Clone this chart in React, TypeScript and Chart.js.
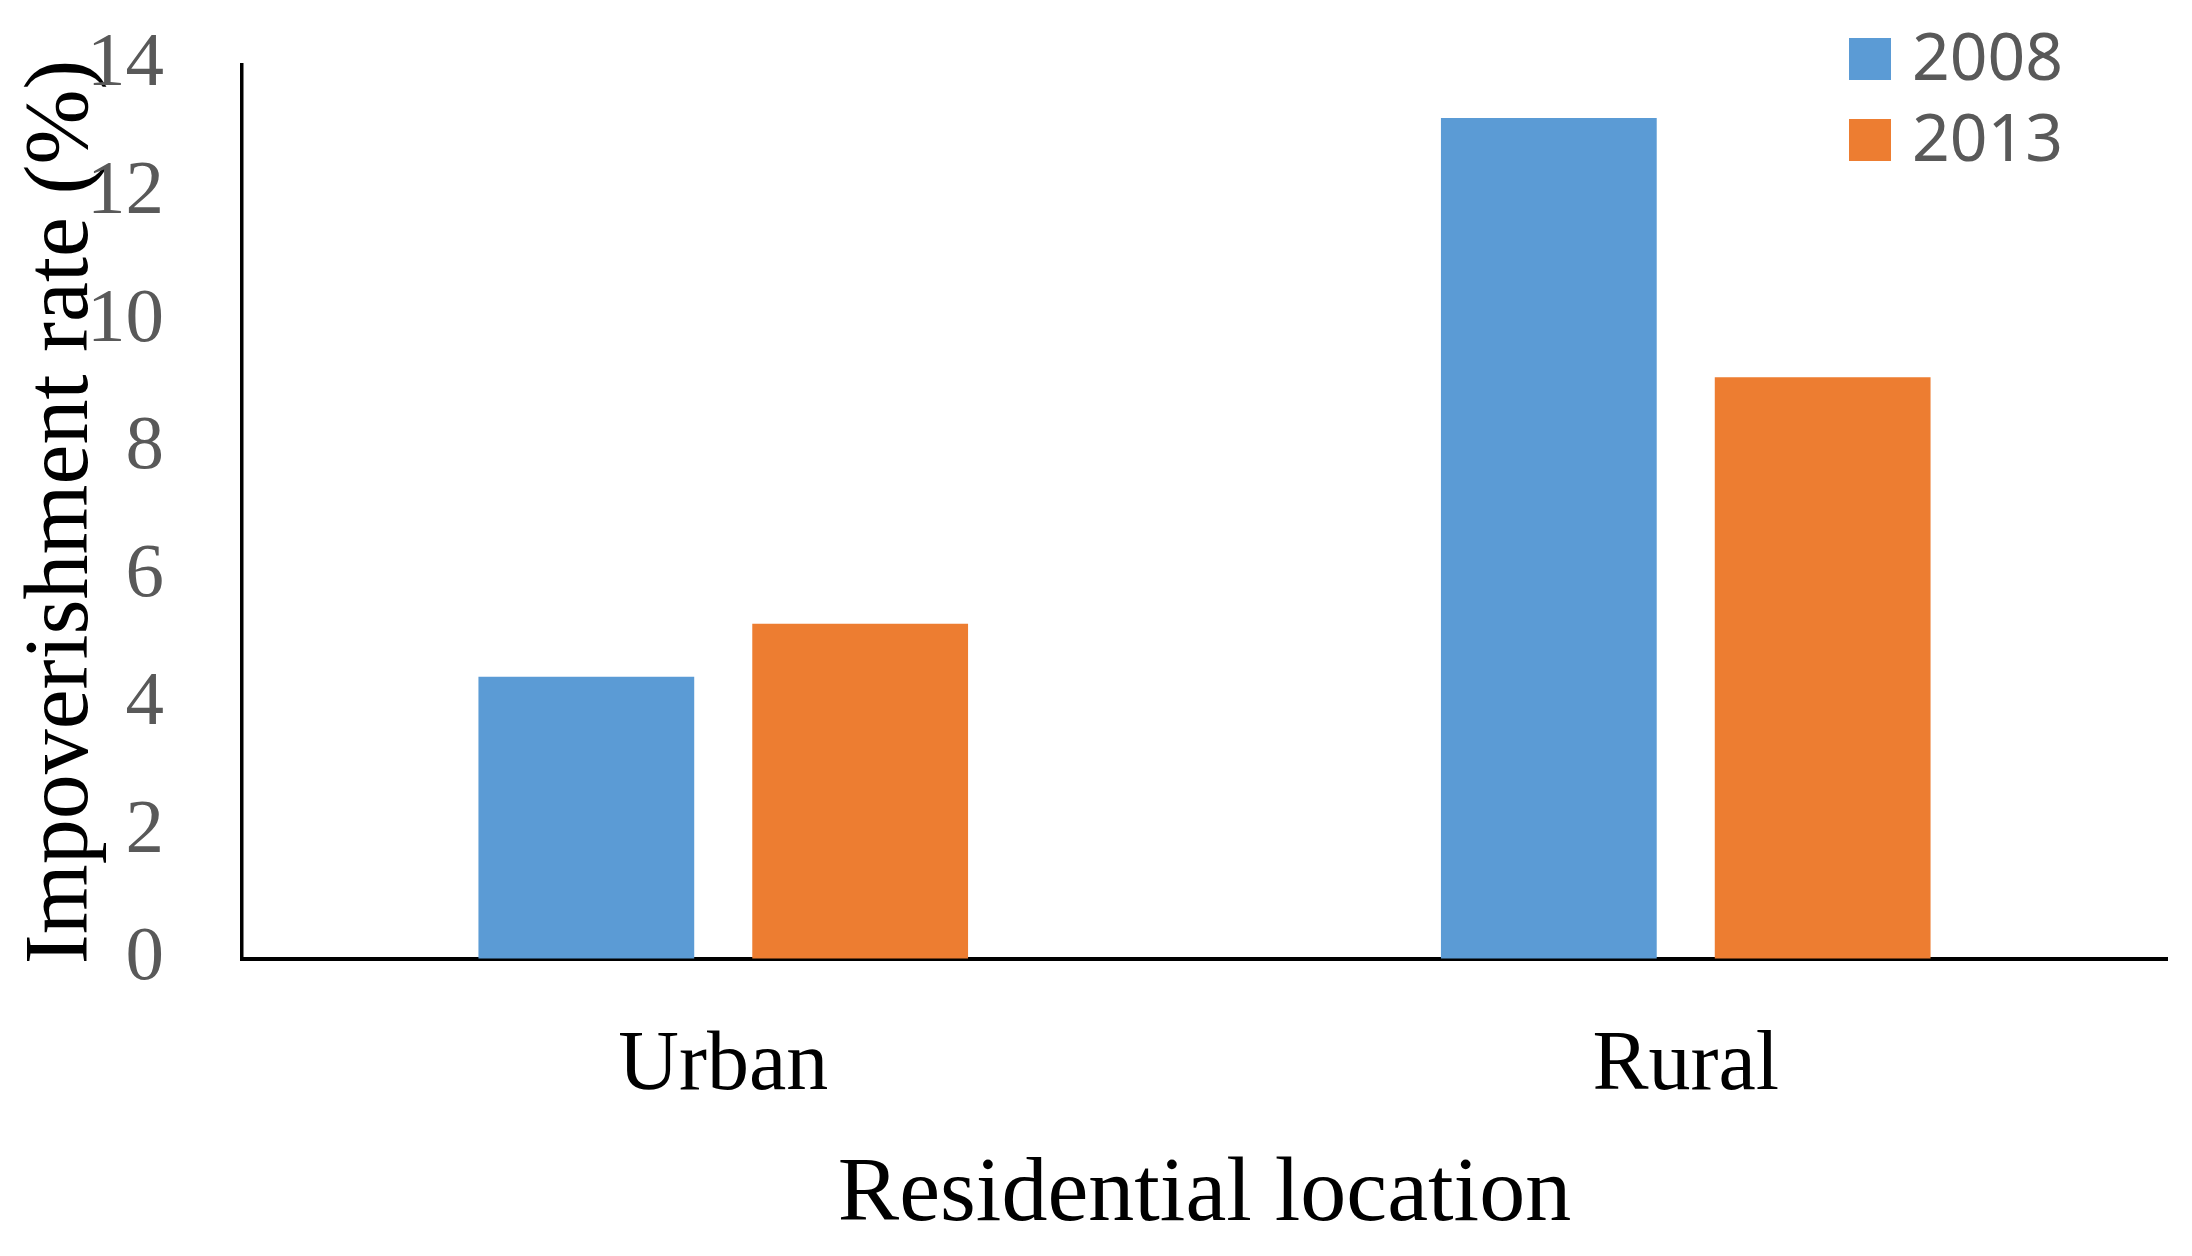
import React, { useEffect, useRef } from "react";
import { Chart, registerables } from "chart.js";

Chart.register(...registerables);

const categories = ["Urban", "Rural"];
const seriesLabels = ["2008", "2013"];
const values2008 = [4.42, 13.17];
const values2013 = [5.25, 9.11];
const seriesColors = ["#5B9BD5", "#ED7D31"];
const yMin = 0;
const yMax = 14;
const yStep = 2;
const xTitle = "Residential location";
const yTitle = "Impoverishment rate (%)";

const W = 2192;
const H = 1256;

const legendPlugin = {
  id: "customLegend",
  afterDraw(chart: any) {
    const ctx = chart.ctx;
    const area = chart.chartArea;
    const x0 = area.right - 318;
    const rowTops = [38, 119];
    ctx.save();
    ctx.font = '66px "Noto Sans", "Open Sans", sans-serif';
    ctx.textAlign = "left";
    ctx.textBaseline = "alphabetic";
    chart.data.datasets.forEach((ds: any, i: number) => {
      const top = rowTops[i];
      ctx.fillStyle = ds.backgroundColor;
      ctx.fillRect(x0, top, 42, 42);
      ctx.fillStyle = "#595959";
      ctx.fillText(ds.label, x0 + 63, top + 42);
    });
    ctx.restore();
  },
};

export default function App() {
  const ref = useRef<HTMLCanvasElement | null>(null);

  useEffect(() => {
    document.body.style.margin = "0";
    const canvas = ref.current!;
    const chart = new Chart(canvas, {
      type: "bar",
      data: {
        labels: categories,
        datasets: [
          {
            label: seriesLabels[0],
            data: values2008,
            backgroundColor: seriesColors[0],
            categoryPercentage: 0.569,
            barPercentage: 0.788,
          },
          {
            label: seriesLabels[1],
            data: values2013,
            backgroundColor: seriesColors[1],
            categoryPercentage: 0.569,
            barPercentage: 0.788,
          },
        ],
      },
      options: {
        responsive: false,
        animation: false,
        devicePixelRatio: 1,
        layout: { padding: { top: 65, right: 25, bottom: 0, left: 0 } },
        plugins: {
          legend: { display: false },
          tooltip: { enabled: false },
        },
        scales: {
          x: {
            afterFit(scale: any) {
              scale.height = 297;
              scale.paddingLeft = 0;
              scale.paddingRight = 0;
            },
            grid: {
              display: true,
              drawOnChartArea: false,
              drawTicks: false,
              color: "rgba(0,0,0,0)",
            },
            border: { display: true, color: "#000000", width: 4 },
            ticks: {
              padding: 58,
              color: "#000000",
              font: { family: '"Liberation Serif", "Times New Roman", serif', size: 84 },
            },
            title: {
              display: true,
              text: xTitle,
              color: "#000000",
              padding: { top: 0, bottom: 5 },
              font: { family: '"Liberation Serif", "Times New Roman", serif', size: 92 },
            },
          },
          y: {
            min: yMin,
            max: yMax,
            afterFit(scale: any) {
              scale.width = 242;
              scale.paddingTop = 0;
              scale.paddingBottom = 0;
            },
            grid: {
              display: true,
              drawOnChartArea: false,
              drawTicks: false,
              color: "rgba(0,0,0,0)",
            },
            border: { display: true, color: "#000000", width: 3.5 },
            ticks: {
              stepSize: yStep,
              padding: 78,
              color: "#595959",
              font: { family: '"Liberation Serif", "Times New Roman", serif', size: 77 },
            },
            title: {
              display: true,
              text: yTitle,
              color: "#000000",
              padding: { top: 9, bottom: 0 },
              font: { family: '"Liberation Serif", "Times New Roman", serif', size: 90 },
            },
          },
        },
      },
      plugins: [legendPlugin],
    } as any);
    return () => chart.destroy();
  }, []);

  return (
    <div style={{ position: "absolute", left: 0, top: 0, width: W, height: H, background: "#ffffff" }}>
      <canvas ref={ref} width={W} height={H} style={{ width: W, height: H, display: "block" }} />
    </div>
  );
}
